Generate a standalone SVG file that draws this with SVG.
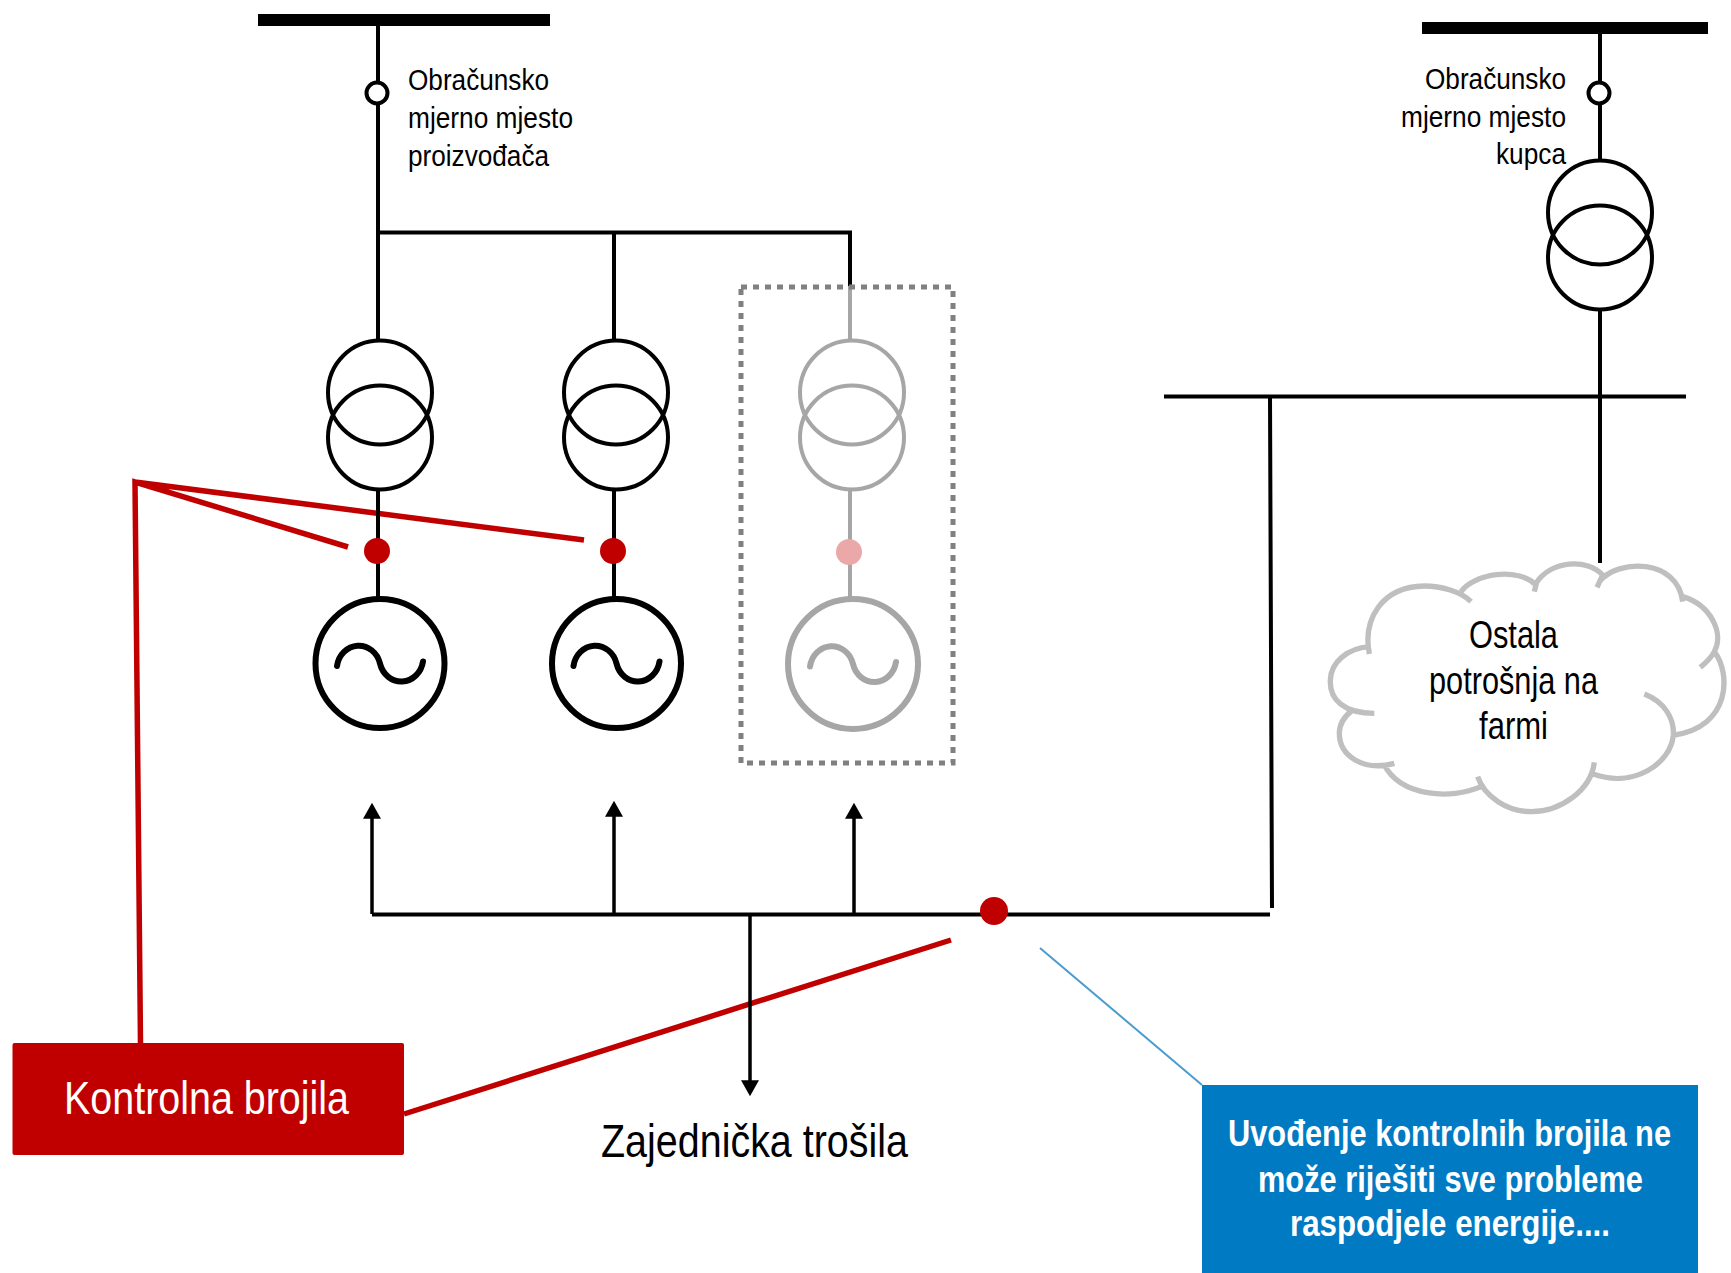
<svg xmlns="http://www.w3.org/2000/svg" width="1731" height="1273" viewBox="0 0 1731 1273">
<style>
.t{font-family:"Liberation Sans",Arial,sans-serif;fill:#000}
.w{fill:#fff}
.b{font-weight:bold}
.ln{fill:none;stroke:#000;stroke-width:4}
.thin{fill:none;stroke:#000;stroke-width:3.5}
.g{stroke:#a6a6a6}
.red{fill:none;stroke:#c00000;stroke-width:5.5}
.xf{fill:none;stroke:#000;stroke-width:4}
.gen{fill:none;stroke:#000;stroke-width:6;stroke-linecap:round}
.gy{stroke:#a6a6a6}
.bus{fill:#000}
.meter{fill:#fff;stroke:#000;stroke-width:4}
.cl{fill:none;stroke:#bfbfbf;stroke-width:16}
</style>
<defs>
<marker id="arr" markerUnits="userSpaceOnUse" markerWidth="16" markerHeight="18" viewBox="0 0 15 17" refX="12" refY="8.5" orient="auto"><polygon points="0,0 15,8.5 0,17" fill="#000"/></marker>
<g id="xfm"><circle cx="0" cy="0" r="52" class="xf"/><circle cx="0" cy="45" r="52" class="xf"/></g>
<g id="sine"><path d="M-43 2.5A22 24 0 0 1 0 0A22 24 0 0 0 43 -2"/></g>
</defs>

<g id="connectors">
<path class="red" d="M140.500 1045L135 482L348 547M135 482L584 540"/>
<line class="red" x1="404" y1="1114" x2="951" y2="940"/>
<line x1="1040" y1="948" x2="1202" y2="1085" stroke="#4a9ccf" stroke-width="2"/>
<path class="ln" d="M378 26V340M378 232.500H850V286M614 232V340M378 491V597M614 491V597"/>
<path class="ln g" d="M850 286V340M850 491V597"/>
<path class="ln" d="M1600 34V159M1600 311V563M1164 396.500H1686M1270 396L1272 908"/>
<path class="ln" d="M372 914.500H1270"/>
<path class="thin" d="M372 914V806" marker-end="url(#arr)"/>
<path class="thin" d="M614 914V804" marker-end="url(#arr)"/>
<path class="thin" d="M854 914V806" marker-end="url(#arr)"/>
<path class="thin" d="M750 914V1093" marker-end="url(#arr)"/>
</g>

<g id="busbar-producer"><rect class="bus" x="258" y="14" width="292" height="12"/></g>
<g id="busbar-customer"><rect class="bus" x="1422" y="22" width="286" height="12"/></g>

<g id="meter-producer"><circle class="meter" cx="377" cy="93" r="10.500"/>
<text class="t" font-size="30"><tspan x="408" y="90" textLength="141" lengthAdjust="spacingAndGlyphs">Obračunsko</tspan><tspan x="408" y="128" textLength="165" lengthAdjust="spacingAndGlyphs">mjerno mjesto</tspan><tspan x="408" y="166" textLength="141" lengthAdjust="spacingAndGlyphs">proizvođača</tspan></text></g>

<g id="meter-customer"><circle class="meter" cx="1599" cy="93" r="10.500"/>
<text class="t" font-size="30"><tspan x="1425" y="88.500" textLength="141" lengthAdjust="spacingAndGlyphs">Obračunsko</tspan><tspan x="1401" y="126.500" textLength="165" lengthAdjust="spacingAndGlyphs">mjerno mjesto</tspan><tspan x="1496" y="163.500" textLength="70" lengthAdjust="spacingAndGlyphs">kupca</tspan></text></g>

<g id="transformer-1"><use href="#xfm" x="380" y="392.500"/></g>
<g id="transformer-2"><use href="#xfm" x="616" y="392.500"/></g>
<g id="transformer-customer"><use href="#xfm" x="1600" y="212.500"/></g>
<g id="transformer-3"><circle cx="852" cy="392.500" r="52" class="xf gy"/><circle cx="852" cy="437.500" r="52" class="xf gy"/></g>

<g id="meter-dot-1"><circle cx="377" cy="551" r="13" fill="#c00000"/></g>
<g id="meter-dot-2"><circle cx="613" cy="551" r="13" fill="#c00000"/></g>
<g id="meter-dot-3"><circle cx="849" cy="552" r="13" fill="#eba8a8"/></g>
<g id="meter-dot-main"><circle cx="994" cy="911" r="14" fill="#c00000"/></g>

<g id="generator-1"><circle cx="380" cy="663.500" r="64.500" class="gen"/><use href="#sine" x="380" y="663.500" class="gen"/></g>
<g id="generator-2"><circle cx="616.500" cy="663.500" r="64.500" class="gen"/><use href="#sine" x="616.500" y="663.500" class="gen"/></g>
<g id="generator-3"><circle cx="853" cy="664" r="65" class="gen gy"/><use href="#sine" x="853" y="664" class="gen gy"/></g>

<g id="dashed-frame"><rect x="741" y="287" width="212" height="476" fill="none" stroke="#808080" stroke-width="5" stroke-dasharray="6 6"/></g>

<g id="cloud">
<g transform="translate(1301 530) scale(.33333)">
<path class="cl" d="M205 372C185 270 240 170 370 168C420 168 480 185 510 215M480 185C520 130 650 110 705 165L700 185M705 160C750 90 860 85 905 135L888 172M895 155C950 85 1130 85 1145 215M1145 200C1230 225 1270 310 1240 365C1230 385 1215 398 1198 412M1240 365C1290 430 1290 590 1120 615M1030 492C1090 515 1120 565 1117 615C1110 700 1000 775 878 733M880 697C870 780 780 845 690 845C620 845 550 800 530 740M540 770C450 810 300 800 250 705M280 700C190 725 115 680 115 610C115 580 135 555 155 540M220 550C130 550 85 510 88 450C90 395 140 355 205 350"/>
</g>
<text class="t" font-size="39"><tspan x="1469" y="648" textLength="89" lengthAdjust="spacingAndGlyphs">Ostala</tspan><tspan x="1429" y="694" textLength="169" lengthAdjust="spacingAndGlyphs">potrošnja na</tspan><tspan x="1479" y="739" textLength="69" lengthAdjust="spacingAndGlyphs">farmi</tspan></text>
</g>

<g id="label-loads"><text class="t" font-size="46" x="601" y="1157" textLength="307" lengthAdjust="spacingAndGlyphs">Zajednička trošila</text></g>

<g id="box-control-meters"><rect x="12.500" y="1043" width="391.500" height="112" rx="2" fill="#c00000"/>
<text class="t w" font-size="47" x="64" y="1114" textLength="285" lengthAdjust="spacingAndGlyphs">Kontrolna brojila</text></g>

<g id="box-note"><rect x="1202" y="1085" width="496" height="188" fill="#007ac2"/>
<text class="t w b" font-size="37" transform="translate(1228 1146) scale(.832 1)" textLength="532.500" lengthAdjust="spacingAndGlyphs">Uvođenje kontrolnih brojila ne</text>
<text class="t w b" font-size="37" transform="translate(1258 1192) scale(.832 1)" textLength="462.700" lengthAdjust="spacingAndGlyphs">može riješiti sve probleme</text>
<text class="t w b" font-size="37" transform="translate(1290 1236) scale(.832 1)" textLength="384.600" lengthAdjust="spacingAndGlyphs">raspodjele energije....</text></g>
</svg>
